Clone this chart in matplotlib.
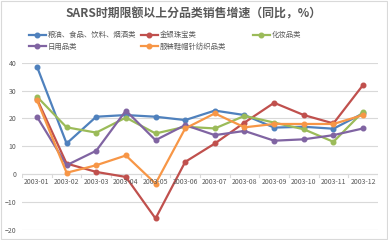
import matplotlib
matplotlib.use("Agg")
import matplotlib.pyplot as plt
import numpy as np

plt.rcParams["font.family"] = ["Noto Sans CJK SC", "DejaVu Sans"]

months = ["2003-01", "2003-02", "2003-03", "2003-04", "2003-05", "2003-06",
          "2003-07", "2003-08", "2003-09", "2003-10", "2003-11", "2003-12"]

grain_food = [38.6, 11.0, 20.6, 21.2, 20.6, 19.4, 22.8, 21.2, 16.7, 17.0, 16.3, 21.8]
jewelry = [27.0, 3.8, 0.8, -1.0, -15.9, 4.4, 11.0, 18.5, 25.6, 21.2, 18.2, 32.0]
cosmetics = [27.8, 16.8, 14.9, 20.3, 14.6, 17.0, 16.4, 20.9, 18.5, 16.1, 11.6, 22.4]
daily_use = [20.6, 3.2, 8.4, 22.8, 12.2, 17.6, 14.0, 15.5, 12.0, 12.5, 14.0, 16.4]
clothing = [26.6, 0.5, 3.2, 6.7, -3.4, 16.4, 21.8, 16.8, 18.0, 18.0, 18.0, 21.2]

series = [
    ("粮油、食品、饮料、烟酒类", grain_food, "#4F81BD"),
    ("金银珠宝类", jewelry, "#C0504D"),
    ("化妆品类", cosmetics, "#9BBB59"),
    ("日用品类", daily_use, "#8064A2"),
    ("服装鞋帽针纺织品类", clothing, "#F79646"),
]

fig = plt.figure(figsize=(3.88, 2.40), dpi=100)
ax = fig.add_axes([0.057, 0.042, 0.917, 0.697])

x = np.arange(len(months))
lines = []
for label, values, color in series:
    (ln,) = ax.plot(x, values, color=color, lw=1.6, marker="o", ms=3.3,
                    label=label, zorder=3)
    lines.append(ln)

ax.set_xlim(-0.5, len(months) - 0.5)
ax.set_ylim(-20, 40)
ax.set_yticks(np.arange(-20, 41, 10))
ax.yaxis.grid(True, color="#D9D9D9", lw=0.8)
ax.set_axisbelow(True)
for side in ["top", "right", "left", "bottom"]:
    ax.spines[side].set_visible(False)
ax.tick_params(axis="y", length=0, labelsize=5, labelcolor="#595959", pad=4)

# category axis drawn at zero, Excel style
ax.axhline(0, color="#D9D9D9", lw=0.8, zorder=1)
ax.set_xticks([])
for b in np.arange(-0.5, len(months), 1.0):
    ax.plot([b, b], [0, -0.9], color="#D9D9D9", lw=0.8, zorder=1)
for i, m in enumerate(months):
    ax.text(i, -1.4, m, ha="center", va="top", fontsize=5, color="#595959")

fig.text(0.5, 0.94, "SARS时期限额以上分品类销售增速（同比，%）", ha="center",
         va="center", fontsize=8.6, fontweight="bold", color="#595959")

# legend columns of equal width, like the spreadsheet legend
columns = [([0, 3], 26), ([1, 4], 138), ([2], 250)]
for idx, x_px in columns:
    leg = fig.legend([lines[i] for i in idx], [series[i][0] for i in idx],
                     loc="upper left", bbox_to_anchor=(x_px / 388, 0.882),
                     frameon=False, fontsize=5.3, labelcolor="#595959",
                     handlelength=2.3, handletextpad=0.3,
                     borderaxespad=0, labelspacing=0.45)

border = plt.Rectangle((0.003, 0.003), 0.994, 0.994, transform=fig.transFigure,
                       fill=False, ec="#D9D9D9", lw=0.8)
fig.add_artist(border)

fig.savefig("out.png", dpi=100)
